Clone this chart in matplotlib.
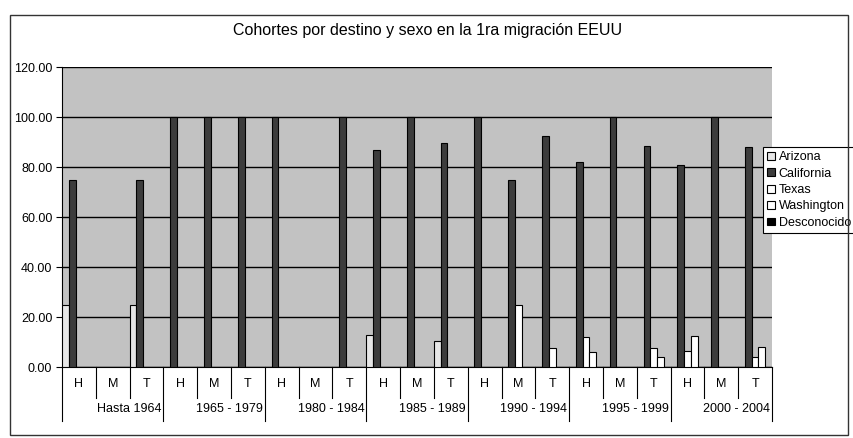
import matplotlib
matplotlib.use("Agg")
import matplotlib.pyplot as plt
from matplotlib.patches import Rectangle
import numpy as np

plt.rcParams['font.family'] = ['Liberation Sans', 'DejaVu Sans']

groups = ["Hasta 1964", "1965 - 1979", "1980 - 1984", "1985 - 1989",
          "1990 - 1994", "1995 - 1999", "2000 - 2004"]
sexes = ["H", "M", "T"]
series_names = ["Arizona", "California", "Texas", "Washington", "Desconocido"]

arizona = [25, 0, 25, 0, 0, 0, 0, 0, 0, 13, 0, 10.5, 0, 0, 0, 0, 0, 0, 0, 0, 0]
california = [75, 0, 75, 100, 100, 100, 100, 0, 100, 87, 100, 89.5,
              100, 75, 92.5, 82, 100, 88.5, 81, 100, 88]
texas = [0, 0, 0, 0, 0, 0, 0, 0, 0, 0, 0, 0, 0, 25, 7.5, 12, 0, 7.5, 6.5, 0, 4]
washington = [0, 0, 0, 0, 0, 0, 0, 0, 0, 0, 0, 0, 0, 0, 0, 6, 0, 4, 12.5, 0, 8]
desconocido = [0] * 21

yticks = [0, 20, 40, 60, 80, 100, 120]

W, H = 854, 438
fig = plt.figure(figsize=(W / 100, H / 100), dpi=100)

# outer chart border
fig.patches.append(Rectangle((10 / W, 3 / H), 838 / W, 420 / H, transform=fig.transFigure,
                             fill=False, edgecolor='#333333', linewidth=1.0))

left, right, top, bottom = 62, 772, 67, 367
ax = fig.add_axes([left / W, (H - bottom) / H, (right - left) / W, (bottom - top) / H])
ax.set_facecolor('#c2c2c2')

series = [arizona, california, texas, washington, desconocido]
faces = ['#e6e6e6', '#3c3c3c', 'white', 'white', 'black']
n = len(california)
x = np.arange(n)
w = 0.2
handles = []
for j, (vals, fc) in enumerate(zip(series, faces)):
    b = ax.bar(x + (j - 2) * w, vals, width=w, color=fc, edgecolor='black',
               linewidth=0.8, zorder=3, label=series_names[j])
    handles.append(b)

ax.set_xlim(-0.5, n - 0.5)
ax.set_ylim(0, 120)
ax.set_yticks(yticks)
ax.set_yticklabels([f"{v:.2f}" for v in yticks], fontsize=9)
ax.yaxis.grid(True, color='black', linewidth=1.0, zorder=1)
ax.set_axisbelow(True)
ax.tick_params(axis='y', length=4, width=0.8, direction='out', pad=3)
ax.set_xticks([])
for s in ['top', 'right']:
    ax.spines[s].set_visible(False)
ax.spines['left'].set_color('black')
ax.spines['bottom'].set_color('black')

tr = ax.get_xaxis_transform()
# category separators
for i in range(n + 1):
    xb = i - 0.5
    if i % 3 == 0:
        ax.plot([xb, xb], [0, -0.18], transform=tr, color='black', lw=0.8, clip_on=False)
    else:
        ax.plot([xb, xb], [0, -0.103], transform=tr, color='black', lw=0.8, clip_on=False)
for i in range(n):
    ax.text(i, -0.057, sexes[i % 3], transform=tr, ha='center', va='center', fontsize=9)
for g, name in enumerate(groups):
    ax.text(3 * g + 2.45, -0.14, name, transform=tr, ha='right', va='center', fontsize=9)

fig.text(428 / W, (H - 31) / H, "Cohortes por destino y sexo en la 1ra migración EEUU",
         ha='center', va='center', fontsize=11.5)

leg = ax.legend(handles=handles, labels=series_names, loc='upper left',
                bbox_to_anchor=(763 / W, (H - 147) / H), bbox_transform=fig.transFigure,
                fontsize=9, frameon=True, fancybox=False, edgecolor='black',
                framealpha=1, handlelength=0.6, handleheight=0.6, handletextpad=0.3,
                labelspacing=0.35, borderpad=0.35, borderaxespad=0)
leg.get_frame().set_linewidth(0.8)

fig.savefig("out.png", dpi=100)
